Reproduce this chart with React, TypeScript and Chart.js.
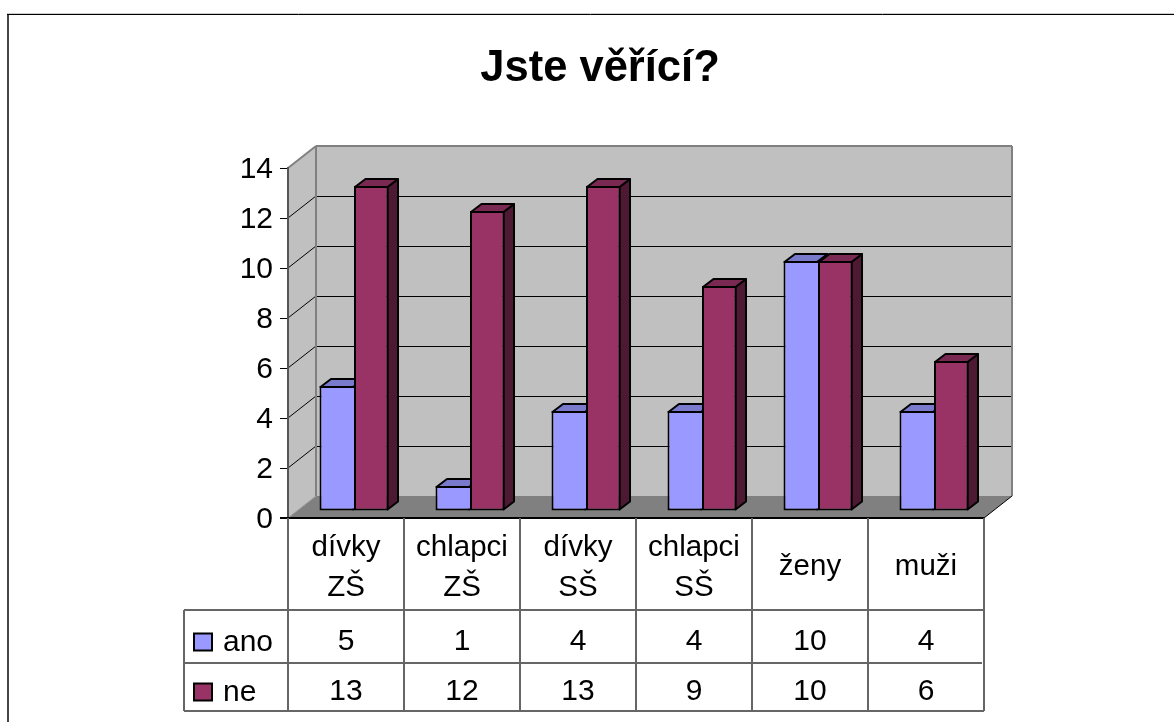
import React, { useEffect, useRef } from "react";
import { Chart, registerables } from "chart.js";

Chart.register(...registerables);

const TITLE = "Jste věřící?";
const categories: string[][] = [["dívky", "ZŠ"], ["chlapci", "ZŠ"], ["dívky", "SŠ"], ["chlapci", "SŠ"], ["ženy"], ["muži"]];
const ano = [5, 1, 4, 4, 10, 4];
const ne = [13, 12, 13, 9, 10, 6];
const seriesNames = ["ano", "ne"];
const seriesColors = ["#9999FF", "#993366"];
const seriesTop = ["#7A7ACC", "#7A2952"];
const seriesSide = ["#4D4D80", "#4D1933"];
const FONT = '"Liberation Sans", Arial, sans-serif';

const WALL_DX = 28, WALL_DY = -22;
const BAR_SHIFT_X = 8, BAR_SHIFT_Y = -7;
const DEPTH_X = 10.5, DEPTH_Y = -8;
const TABLE_LEFT = 184;
const ROWS = [610, 663, 711];

function poly(ctx: CanvasRenderingContext2D, pts: number[][], fill: string | null, stroke: string | null, lw = 1) {
  ctx.beginPath();
  pts.forEach((p, i) => (i ? ctx.lineTo(p[0], p[1]) : ctx.moveTo(p[0], p[1])));
  ctx.closePath();
  if (fill) { ctx.fillStyle = fill; ctx.fill(); }
  if (stroke) { ctx.strokeStyle = stroke; ctx.lineWidth = lw; ctx.stroke(); }
}
function line(ctx: CanvasRenderingContext2D, x1: number, y1: number, x2: number, y2: number, c: string, lw: number) {
  ctx.beginPath(); ctx.moveTo(x1, y1); ctx.lineTo(x2, y2);
  ctx.strokeStyle = c; ctx.lineWidth = lw; ctx.stroke();
}

const scene3d = {
  id: "scene3d",
  beforeDraw(chart: any) {
    const { ctx, chartArea: a, scales } = chart;
    const { left: L, right: R, top: T, bottom: B } = a;
    ctx.save();
    ctx.fillStyle = "#fff";
    ctx.fillRect(0, 0, chart.width, chart.height);
    // page frame
    line(ctx, 8, 14, 8, 722, "#444", 2);
    line(ctx, 7, 13.5, 1174, 13.5, "#ccc", 1);
    line(ctx, 7, 14.5, 1174, 14.5, "#000", 1);
    // walls
    const grey = "#C0C0C0", edge = "#808080";
    poly(ctx, [[L, T], [L + WALL_DX, T + WALL_DY], [L + WALL_DX, B + WALL_DY], [L, B]], grey, null);
    poly(ctx, [[L + WALL_DX, T + WALL_DY], [R + WALL_DX, T + WALL_DY], [R + WALL_DX, B + WALL_DY], [L + WALL_DX, B + WALL_DY]], grey, null);
    poly(ctx, [[L, B], [L + WALL_DX, B + WALL_DY], [R + WALL_DX, B + WALL_DY], [R, B]], edge, null);
    // gridlines
    scales.y.ticks.forEach((t: any) => {
      if (t.value === 0 || t.value === 14) return;
      const y = scales.y.getPixelForValue(t.value);
      line(ctx, L, y, L + WALL_DX, y + WALL_DY, "#000", 1);
      line(ctx, L + WALL_DX, Math.round(y + WALL_DY) + 0.5, R + WALL_DX, Math.round(y + WALL_DY) + 0.5, "#000", 1);
    });
    // wall edges
    line(ctx, L, T, L + WALL_DX, T + WALL_DY, edge, 2);
    line(ctx, L + WALL_DX, T + WALL_DY, R + WALL_DX, T + WALL_DY, edge, 2);
    line(ctx, L + WALL_DX, T + WALL_DY, L + WALL_DX, B + WALL_DY, edge, 2);
    line(ctx, R + WALL_DX, T + WALL_DY, R + WALL_DX, B + WALL_DY, edge, 2);
    line(ctx, L, B, L + WALL_DX, B + WALL_DY, "#999", 1);
    line(ctx, R, B, R + WALL_DX, B + WALL_DY, "#000", 1);
    ctx.restore();
  },
  beforeDatasetsDraw(chart: any) {
    // the left bar of each pair goes underneath the right one
    const { ctx } = chart;
    [0, 1].forEach((i) => {
      const meta = chart.getDatasetMeta(i);
      ctx.save();
      ctx.translate(BAR_SHIFT_X, BAR_SHIFT_Y);
      ctx.lineJoin = "round";
      meta.data.forEach((bar: any) => {
        const p = bar.getProps(["x", "y", "base", "width"], true);
        const l = p.x - p.width / 2, r = p.x + p.width / 2;
        poly(ctx, [[r - 1, p.y + 1], [r - 1 + DEPTH_X, p.y + 1 + DEPTH_Y], [r - 1 + DEPTH_X, p.base - 1 + DEPTH_Y], [r - 1, p.base - 1]], seriesSide[i], "#000", 2);
        poly(ctx, [[l + 1, p.y + 1], [l + 1 + DEPTH_X, p.y + 1 + DEPTH_Y], [r - 1 + DEPTH_X, p.y + 1 + DEPTH_Y], [r - 1, p.y + 1]], seriesTop[i], "#000", 2);
      });
      meta.controller.draw();
      ctx.restore();
    });
    return false;
  },
  afterDraw(chart: any) {
    const { ctx, chartArea: a, scales } = chart;
    const { left: L, right: R, bottom: B } = a;
    ctx.save();
    const tc = "#666";
    const cellW = (R - L) / categories.length;
    line(ctx, L - 8, B, R, B, "#000", 2);
    // table grid
    for (let i = 0; i <= categories.length; i++) line(ctx, L + i * cellW, B, L + i * cellW, ROWS[2], tc, 2);
    ROWS.forEach((y, k) => line(ctx, TABLE_LEFT, y, k === 1 ? R - 2 : R, y, tc, 2));
    line(ctx, TABLE_LEFT, ROWS[0], TABLE_LEFT, ROWS[2], tc, 2);
    // y tick labels
    ctx.fillStyle = "#000";
    ctx.textBaseline = "alphabetic";
    ctx.font = `30px ${FONT}`;
    ctx.textAlign = "right";
    scales.y.ticks.forEach((t: any) => ctx.fillText(String(t.value), 273, scales.y.getPixelForValue(t.value) + 10));
    // category labels and values
    ctx.textAlign = "center";
    categories.forEach((lines, i) => {
      const x = scales.x.getPixelForValue(i);
      ctx.font = `29.5px ${FONT}`;
      if (lines.length === 2) {
        ctx.fillText(lines[0], x, 556);
        ctx.fillText(lines[1], x, 596);
      } else {
        ctx.fillText(lines[0], x, 575);
      }
      ctx.font = `30px ${FONT}`;
      ctx.fillText(String(ano[i]), x, 650);
      ctx.fillText(String(ne[i]), x, 700);
    });
    // legend keys inside the table
    ctx.textAlign = "left";
    [651, 701].forEach((y, k) => {
      ctx.fillStyle = seriesColors[k];
      ctx.fillRect(194, y - 17.5, 18, 17);
      ctx.strokeStyle = "#000"; ctx.lineWidth = 2;
      ctx.strokeRect(194, y - 17.5, 18, 17);
      ctx.fillStyle = "#000";
      ctx.fillText(seriesNames[k], 223, y);
    });
    ctx.restore();
  },
};

export default function App() {
  const ref = useRef<HTMLCanvasElement>(null);
  useEffect(() => {
    const chart = new Chart(ref.current!, {
      type: "bar",
      plugins: [scene3d],
      data: {
        labels: categories.map((c) => c.join(" ")),
        datasets: [
          { label: seriesNames[0], data: ano, clip: false, backgroundColor: seriesColors[0], borderColor: "#000", borderWidth: { left: 2, top: 2, bottom: 2, right: 0 }, borderSkipped: false },
          { label: seriesNames[1], data: ne, clip: false, backgroundColor: seriesColors[1], borderColor: "#000", borderWidth: 2, borderSkipped: false },
        ],
      } as any,
      options: {
        responsive: false,
        animation: false,
        layout: { padding: { left: 216, right: 190, top: 0, bottom: 0 } },
        datasets: { bar: { barPercentage: 1, categoryPercentage: 0.595 } },
        plugins: {
          legend: { display: false },
          tooltip: { enabled: false },
          title: {
            display: true,
            text: TITLE,
            color: "#000",
            font: { family: FONT, size: 43.5, weight: "bold", lineHeight: 1.2 },
            padding: { top: 43, bottom: 72.8 },
          },
        },
        scales: {
          x: {
            afterFit: (s: any) => { s.height = 204; },
            ticks: { display: false },
            grid: { display: false, drawTicks: false },
            border: { display: false },
          },
          y: {
            min: 0,
            max: 14,
            afterFit: (s: any) => { s.width = 72; },
            ticks: { stepSize: 2, display: false },
            grid: { drawOnChartArea: false, tickLength: 8, color: "#000", tickWidth: 1 },
            border: { color: "#555", width: 2 },
          },
        },
      } as any,
    });
    return () => chart.destroy();
  }, []);
  return (
    <div style={{ position: "absolute", left: 0, top: 0, width: 1174, height: 722, overflow: "hidden" }}>
      <canvas ref={ref} width={1174} height={722} style={{ display: "block" }} />
    </div>
  );
}
